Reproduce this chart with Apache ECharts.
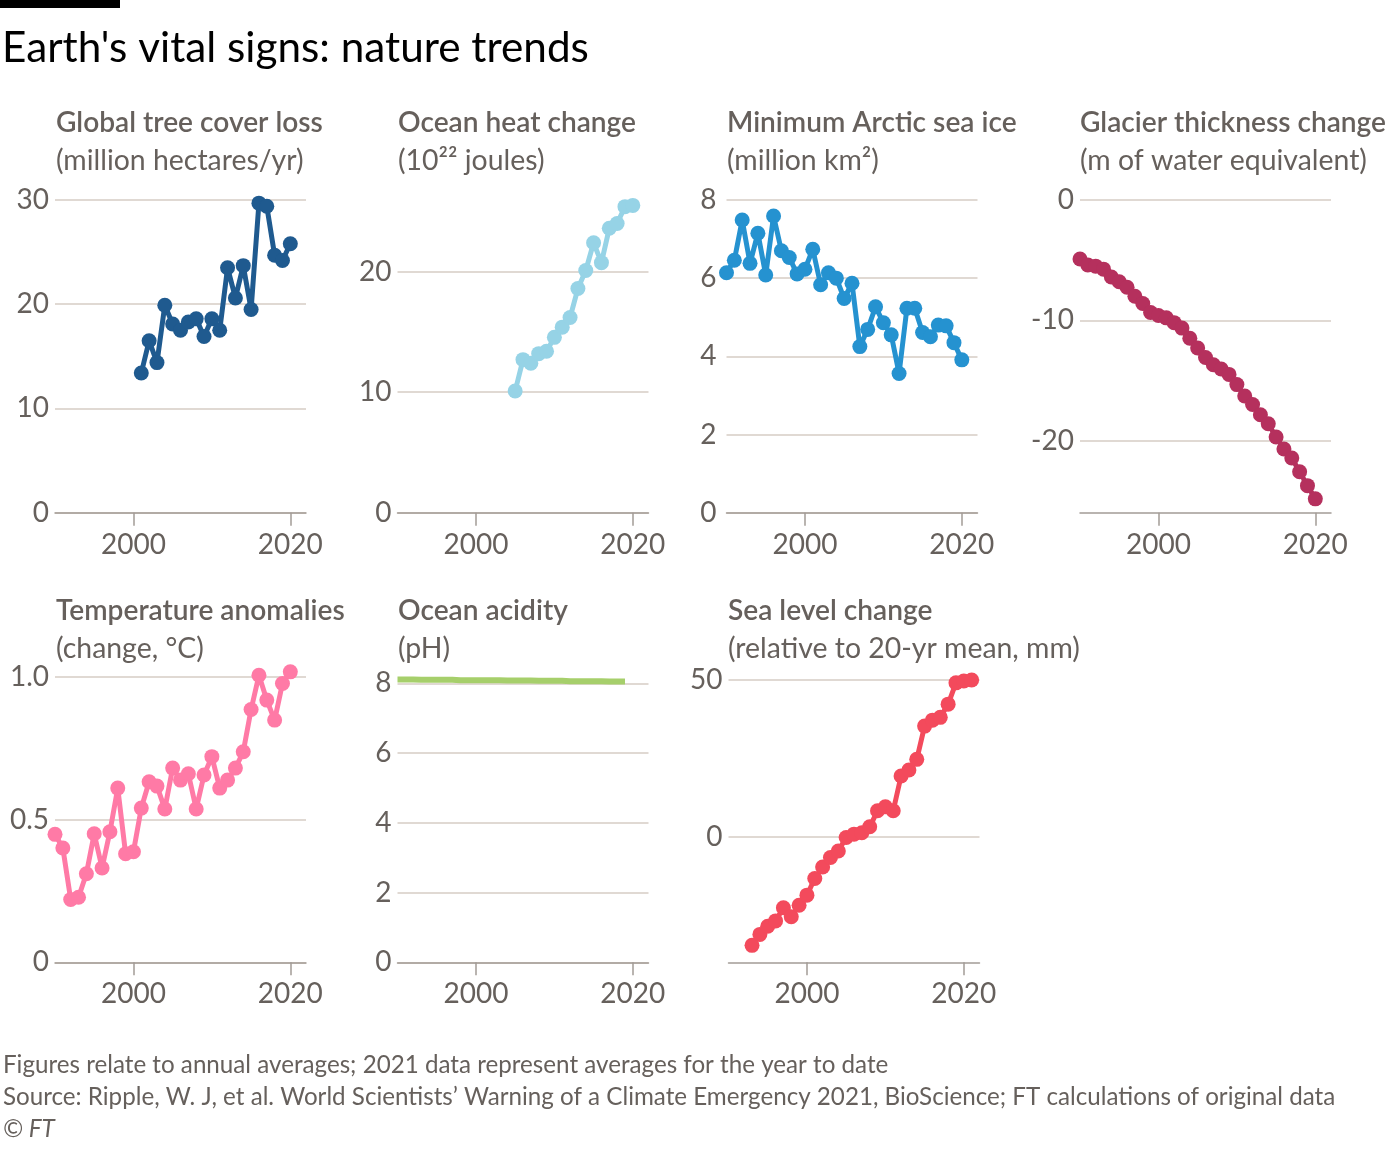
<!DOCTYPE html>
<html><head><meta charset="utf-8">
<script src="https://cdn.jsdelivr.net/npm/echarts@6/dist/echarts.min.js"></script>
<style>html,body{margin:0;padding:0;background:#fff}#c{width:1400px;height:1158px}</style>
</head><body><div id="c"></div><script>
// ---------- data ----------
const treeYears = [2001,2002,2003,2004,2005,2006,2007,2008,2009,2010,2011,2012,2013,2014,2015,2016,2017,2018,2019,2020];
const treeLoss = [13.4,16.5,14.4,19.9,18.1,17.5,18.3,18.6,16.9,18.6,17.5,23.5,20.6,23.7,19.5,29.7,29.4,24.7,24.2,25.8];

const heatYears = [2005,2006,2007,2008,2009,2010,2011,2012,2013,2014,2015,2016,2017,2018,2019,2020];
const oceanHeat = [10.1,12.7,12.4,13.2,13.4,14.55,15.4,16.2,18.6,20.1,22.4,20.75,23.6,24.0,25.4,25.5];

const iceYears = [1990,1991,1992,1993,1994,1995,1996,1997,1998,1999,2000,2001,2002,2003,2004,2005,2006,2007,2008,2009,2010,2011,2012,2013,2014,2015,2016,2017,2018,2019,2020];
const seaIce = [6.14,6.46,7.49,6.38,7.15,6.08,7.59,6.70,6.53,6.11,6.23,6.74,5.83,6.14,6.00,5.48,5.87,4.25,4.69,5.27,4.86,4.55,3.56,5.23,5.23,4.61,4.50,4.80,4.78,4.35,3.91];

const glacierYears = [1990,1991,1992,1993,1994,1995,1996,1997,1998,1999,2000,2001,2002,2003,2004,2005,2006,2007,2008,2009,2010,2011,2012,2013,2014,2015,2016,2017,2018,2019,2020];
const glacier = [-4.9,-5.4,-5.5,-5.75,-6.4,-6.8,-7.25,-8.0,-8.6,-9.35,-9.6,-9.8,-10.2,-10.65,-11.5,-12.3,-13.1,-13.7,-14.05,-14.5,-15.35,-16.3,-17.0,-17.85,-18.6,-19.7,-20.7,-21.45,-22.6,-23.75,-24.85];

const tempYears = [1990,1991,1992,1993,1994,1995,1996,1997,1998,1999,2000,2001,2002,2003,2004,2005,2006,2007,2008,2009,2010,2011,2012,2013,2014,2015,2016,2017,2018,2019,2020];
const tempAnom = [0.448,0.40,0.22,0.228,0.31,0.45,0.33,0.457,0.61,0.38,0.387,0.54,0.632,0.617,0.537,0.68,0.638,0.66,0.537,0.656,0.72,0.61,0.638,0.68,0.737,0.885,1.005,0.918,0.848,0.976,1.017];

const phYears = [1990,1991,1992,1993,1994,1995,1996,1997,1998,1999,2000,2001,2002,2003,2004,2005,2006,2007,2008,2009,2010,2011,2012,2013,2014,2015,2016,2017,2018,2019];
const oceanPh = [8.11,8.11,8.11,8.10,8.10,8.10,8.10,8.10,8.09,8.09,8.09,8.09,8.09,8.09,8.08,8.08,8.08,8.08,8.07,8.07,8.07,8.07,8.06,8.06,8.06,8.06,8.06,8.05,8.05,8.05];

const seaYears = [1993,1994,1995,1996,1997,1998,1999,2000,2001,2002,2003,2004,2005,2006,2007,2008,2009,2010,2011,2012,2013,2014,2015,2016,2017,2018,2019,2020,2021];
const seaLevel = [-34.6,-31.1,-28.5,-26.8,-22.6,-25.5,-21.8,-18.6,-13.3,-9.6,-6.6,-4.5,-0.2,0.85,1.3,3.2,8.3,9.6,8.3,19.4,21.3,24.7,35.3,37.2,38.1,42.3,49.1,49.7,50.0];

const xTicks = [2000, 2020];
const treeTicks = [0,10,20,30];
const heatTicks = [0,10,20];
const iceTicks = [0,2,4,6,8];
const glacierTicks = [0,-10,-20];
const tempTicks = [0,0.5,1.0];
const phTicks = [0,2,4,6,8];
const seaTicks = [0,50];

const titles = ['Global tree cover loss','Ocean heat change','Minimum Arctic sea ice','Glacier thickness change','Temperature anomalies','Ocean acidity','Sea level change'];
const subtitles = ['(million hectares/yr)','(10\u00b2\u00b2 joules)','(million km\u00b2)','(m of water equivalent)','(change, \u00b0C)','(pH)','(relative to 20-yr mean, mm)'];
const mainTitle = "Earth's vital signs: nature trends";
const notes = ['Figures relate to annual averages; 2021 data represent averages for the year to date',
  'Source: Ripple, W. J, et al. World Scientists\u2019 Warning of a Climate Emergency 2021, BioScience; FT calculations of original data',
  '\u00a9 FT'];

// ---------- style ----------
const FONT = 'Lato, "Noto Sans", sans-serif';
const TEXT = '#66605c';
const GRIDC = '#d6cdc4';
const AXISC = '#a39c97';

const mctx = document.createElement('canvas').getContext('2d');
function fit(text, weight, target){ mctx.font = weight + ' 100px ' + FONT; return 100*target/mctx.measureText(text).width; }
const titleSize = fit(mainTitle, 'normal', 587);
const headSize = fit('Global tree cover loss', '600', 267);
const subSize = fit('(relative to 20-yr mean, mm)', 'normal', 352);
const tickSize = fit('2000', 'normal', 65);
const noteSize = fit(notes[1], 'normal', 1333);

const panels = [
  {years:treeYears, vals:treeLoss, ticks:treeTicks, color:'#1f5a8f', left:55, top:200, h:312.7, min:0, max:30, tx:56, ty:123},
  {years:heatYears, vals:oceanHeat, ticks:heatTicks, color:'#96d3e6', left:397.5, top:271.7, h:241, min:0, max:20, tx:398, ty:123},
  {years:iceYears, vals:seaIce, ticks:iceTicks, color:'#2592d0', left:726.5, top:200, h:312.7, min:0, max:8, tx:727, ty:123, lm:10},
  {years:glacierYears, vals:glacier, ticks:glacierTicks, color:'#b5305d', left:1080, top:200, h:312.7, min:-26, max:0, tx:1080, ty:123},
  {years:tempYears, vals:tempAnom, ticks:tempTicks, color:'#ff7aa6', left:55, top:676.7, h:285.6, min:0, max:1.0, tx:56, ty:611, fmt:v=> v===0?'0':v.toFixed(1)},
  {years:phYears, vals:oceanPh, ticks:phTicks, color:'#a6cf6b', left:397.5, top:683.3, h:279, min:0, max:8, tx:398, ty:611, noSym:true},
  {years:seaYears, vals:seaLevel, ticks:seaTicks, color:'#f34a5c', left:728.5, top:680, h:282.3, min:-40, max:50, tx:728, ty:611},
];

const grid=[], xAxis=[], yAxis=[], series=[], graphic=[];
graphic.push({type:'rect', shape:{x:0,y:0,width:120,height:8}, style:{fill:'#000'}});
graphic.push({type:'text', x:2, y:48, style:{text:mainTitle, font:'normal '+titleSize+'px '+FONT, fill:'#000', verticalAlign:'middle', align:'left'}});
panels.forEach((p,i)=>{
  grid.push({left:p.left, top:p.top, width:251, height:p.h, containLabel:false});
  xAxis.push({type:'value', gridIndex:i, min:1990, max:2022, position:'bottom',
    axisLine:{show:true, onZero:false, lineStyle:{color:AXISC, width:1.5}},
    axisTick:{show:true, length:13, customValues:xTicks, lineStyle:{color:AXISC, width:1.5}},
    axisLabel:{customValues:xTicks, color:TEXT, fontFamily:FONT, fontSize:tickSize, margin:18, formatter:v=>String(v)},
    splitLine:{show:false}});
  yAxis.push({type:'value', gridIndex:i, min:p.min, max:p.max,
    axisLine:{show:false}, axisTick:{show:false, customValues:p.ticks},
    axisLabel:{customValues:p.ticks, color:TEXT, fontFamily:FONT, fontSize:tickSize, margin:p.lm||6, formatter:p.fmt||(v=>String(v))},
    splitLine:{show:true, lineStyle:{color:GRIDC, width:1.5}}});
  series.push({type:'line', xAxisIndex:i, yAxisIndex:i, data:p.years.map((y,k)=>[y,p.vals[k]]),
    clip:false, animation:false, silent:true, symbol:p.noSym?'none':'circle', symbolSize:15, showSymbol:!p.noSym,
    lineStyle:{width:p.noSym?6:5, color:p.color}, itemStyle:{color:p.color}, z:5});
  graphic.push({type:'text', x:p.tx, y:p.ty, style:{text:titles[i], font:'600 '+headSize+'px '+FONT, fill:TEXT, verticalAlign:'middle', align:'left'}});
  graphic.push({type:'text', x:p.tx, y:p.ty+38, style:{text:subtitles[i], font:'normal '+subSize+'px '+FONT, fill:TEXT, verticalAlign:'middle', align:'left'}});
});
notes.forEach((t,k)=>{
  graphic.push({type:'text', x:3, y:1065+32*k, style:{text:t, font:(k===2?'italic ':'normal ')+noteSize+'px '+FONT, fill:TEXT, verticalAlign:'middle', align:'left'}});
});

const chart = echarts.init(document.getElementById('c'), null, {renderer:'canvas'});
chart.setOption({backgroundColor:'#fff', animation:false, grid, xAxis, yAxis, series, graphic});
</script></body></html>
